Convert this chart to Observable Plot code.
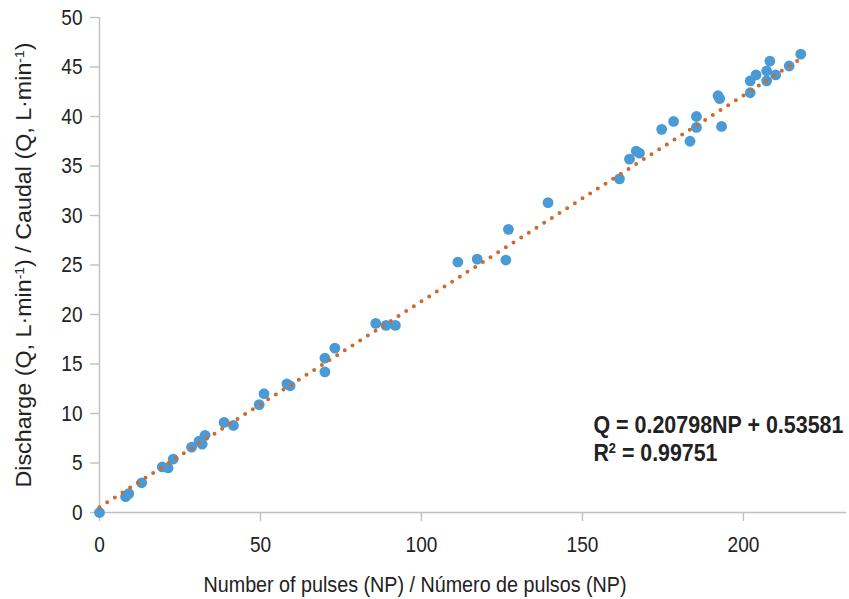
<!DOCTYPE html>
<html>
<head>
<meta charset="utf-8">
<script src="https://cdn.jsdelivr.net/npm/d3@7"></script>
<script src="https://cdn.jsdelivr.net/npm/@observablehq/plot@0.6"></script>
<style>
  html, body { margin: 0; padding: 0; background: #fff; }
  #chart svg { display: block; }
</style>
</head>
<body>
<div id="chart"></div>
<script>
// Measured pulse counts (NP) and discharge (Q, L·min⁻¹)
const pulses = [0, 8.1, 9.1, 13.1, 19.5, 21.3, 22.9, 28.6, 30.9, 31.9, 32.8, 38.7, 41.6, 49.6, 51.1,
  58.2, 59.2, 70.0, 70.0, 73.1, 85.8, 89.0, 91.9, 111.3, 117.3, 126.2, 127.0, 139.3, 161.5, 164.6,
  166.7, 167.7, 174.6, 178.3, 183.4, 185.4, 185.4, 192.1, 192.6, 193.2, 202.1, 202.1, 203.9, 207.2,
  207.2, 208.2, 210.0, 214.2, 217.8];
const discharge = [0, 1.6, 1.9, 3.0, 4.6, 4.5, 5.4, 6.6, 7.2, 6.9, 7.8, 9.1, 8.8, 10.9, 12.0,
  13.0, 12.8, 15.6, 14.2, 16.6, 19.1, 18.9, 18.9, 25.3, 25.6, 25.5, 28.6, 31.3, 33.7, 35.7,
  36.5, 36.3, 38.7, 39.5, 37.5, 40.0, 38.9, 42.1, 41.8, 39.0, 43.6, 42.4, 44.2, 44.6,
  43.6, 45.6, 44.2, 45.1, 46.3];

// Linear fit reported with the data
const slope = 0.20798;
const intercept = 0.53581;
const r2 = 0.99751;

const xTicks = [0, 50, 100, 150, 200];
const yTicks = [0, 5, 10, 15, 20, 25, 30, 35, 40, 45, 50];

// ^{...} marks a superscript
const xLabel = "Number of pulses (NP) / Número de pulsos (NP)";
const yLabel = "Discharge (Q, L·min^{-1}) / Caudal (Q, L·min^{-1})";
const eqLine = `Q = ${slope}NP + ${intercept}`;
const r2Line = `R^{2} = ${r2}`;

const points = pulses.map((np, i) => ({np, q: discharge[i]}));
const fitRange = [0, d3.max(pulses)];
const fit = fitRange.map(np => ({np, q: slope * np + intercept}));

const font = "'Liberation Sans', Arial, sans-serif";
const axisGrey = "#c0c0c0";
const textColor = "#222";

const chart = Plot.plot({
  width: 849,
  height: 599,
  marginLeft: 99,
  marginRight: 3,
  marginTop: 17,
  marginBottom: 87,
  style: {fontFamily: font, background: "#fff"},
  x: {domain: [0, 232]},
  y: {domain: [0, 50]},
  marks: [
    Plot.ruleY([0], {stroke: axisGrey, strokeWidth: 1.4}),
    Plot.ruleX([0], {stroke: axisGrey, strokeWidth: 1.4}),
    Plot.axisX({ticks: xTicks, tickSize: 9, tickPadding: 15, stroke: axisGrey, strokeWidth: 1.4,
      fill: textColor, fontSize: 22, label: null}),
    Plot.axisY({ticks: yTicks, tickSize: 9, tickPadding: 8, stroke: axisGrey, strokeWidth: 1.4,
      fill: textColor, fontSize: 22, label: null}),
    Plot.dot(points, {x: "np", y: "q", r: 5.4, fill: "#4a9ad6", stroke: "none"}),
    Plot.line(fit, {x: "np", y: "q", stroke: "#cd6a2c", strokeWidth: 4,
      strokeDasharray: "0 9.1", strokeLinecap: "round"}),
    Plot.text([xLabel], {frameAnchor: "bottom", textAnchor: "middle", lineAnchor: "bottom",
      dx: -58, dy: 79, fontSize: 22, fill: textColor}),
    Plot.text([yLabel], {frameAnchor: "left", textAnchor: "middle", rotate: -90, dx: -76,
      fontSize: 22, fill: textColor}),
    Plot.text([eqLine], {x: 153.4, y: 8.08, textAnchor: "start",
      lineAnchor: "bottom", fontSize: 24, fontWeight: "bold", fill: textColor}),
    Plot.text([r2Line], {x: 153.4, y: 5.25, textAnchor: "start",
      lineAnchor: "bottom", fontSize: 24, fontWeight: "bold", fill: textColor})
  ]
});

const svg = d3.select(chart);
const texts = svg.selectAll("text");

// Set widths, like a condensed face; superscripts are raised and smaller
const widths = new Map([[xLabel, 423], [yLabel, 445], [eqLine, 250], [r2Line, 124]]);
const digitWidth = 10.6;

texts.each(function () {
  const node = d3.select(this);
  const content = node.text();
  let w = null;
  if (widths.has(content)) w = widths.get(content);
  else if (/^\d+$/.test(content)) w = content.length * digitWidth;
  if (content.includes("^{")) {
    const parts = content.split(/\^\{([^}]*)\}/);
    node.text(null);
    parts.forEach((p, i) => {
      if (!p) return;
      const t = node.append("tspan").text(p);
      if (i % 2 === 1) t.attr("baseline-shift", "super").attr("font-size", "0.6em");
    });
  }
  if (w != null) node.attr("textLength", w).attr("lengthAdjust", "spacingAndGlyphs");
});

document.getElementById("chart").appendChild(chart);
</script>
</body>
</html>
